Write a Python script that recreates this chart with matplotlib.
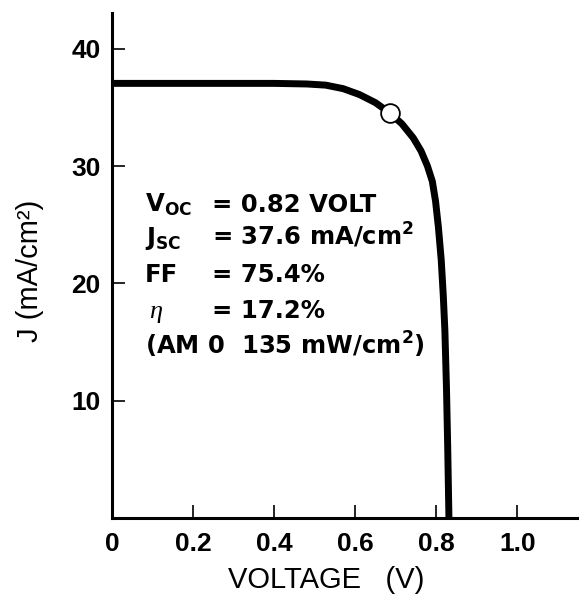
import matplotlib
matplotlib.use('Agg')
import matplotlib.pyplot as plt
from matplotlib.font_manager import FontProperties

# ---- data ----
voltage = [0.00, 0.40, 0.48, 0.527, 0.57, 0.61, 0.65, 0.686, 0.715, 0.743,
           0.762, 0.778, 0.790, 0.798, 0.805, 0.812, 0.817, 0.821, 0.825,
           0.828, 0.831]
current = [37.05, 37.05, 37.0, 36.9, 36.6, 36.1, 35.4, 34.5, 33.6, 32.4,
           31.3, 30.0, 28.7, 27.0, 24.8, 22.0, 19.0, 16.0, 11.0, 6.0, 0.0]
mpp_v = [0.686]
mpp_j = [34.5]

x_ticks = [0, 0.2, 0.4, 0.6, 0.8, 1.0]
x_tick_labels = ['0', '0.2', '0.4', '0.6', '0.8', '1.0']
y_ticks = [10, 20, 30, 40]
y_tick_labels = ['10', '20', '30', '40']

param_names = ['V', 'J', 'FF', 'η', '(AM 0  135 mW/cm$^{2}$)']
param_subs = ['OC', 'SC', '', '', '']
param_values = ['= 0.82 VOLT', '= 37.6 mA/cm$^{2}$', '= 75.4%', '= 17.2%', '']

# ---- styling ----
plt.rcParams['mathtext.fontset'] = 'custom'
plt.rcParams['mathtext.rm'] = 'DejaVu Sans:bold'
plt.rcParams['mathtext.it'] = 'DejaVu Sans:bold'
plt.rcParams['mathtext.bf'] = 'DejaVu Sans:bold'

W, H = 579, 595
fig = plt.figure(figsize=(W / 100, H / 100), dpi=100)


def fx(px):
    return px / W


def fy(py):
    return 1 - py / H


x0p, y0p, x1p, y1p = 112.2, 518, 579, 13
ax = fig.add_axes([fx(x0p), fy(y0p), fx(x1p) - fx(x0p), fy(y1p) - fy(y0p)])
ax.set_xlim(0, 1.152)
ax.set_ylim(0, 43.05)

ax.plot(voltage, current, color='black', lw=5, solid_capstyle='butt', zorder=3)
ax.plot(mpp_v, mpp_j, 'o', ms=13.5, mfc='white', mec='black', mew=1.3, zorder=4)

for s in ['top', 'right']:
    ax.spines[s].set_visible(False)
for s in ['left', 'bottom']:
    ax.spines[s].set_linewidth(2.2)

ax.set_xticks(x_ticks)
ax.set_xticklabels(x_tick_labels)
ax.set_yticks(y_ticks)
ax.set_yticklabels(y_tick_labels)
tick_fp = FontProperties(family='Liberation Sans', weight='bold', size=19)
for lab in ax.get_xticklabels() + ax.get_yticklabels():
    lab.set_fontproperties(tick_fp)
ax.tick_params(axis='both', direction='in', length=9.5, width=1.2)
ax.tick_params(axis='x', pad=10.0)
ax.tick_params(axis='y', pad=8.5)

# axis labels
fig.text(fx(326), fy(580), 'VOLTAGE   (V)', ha='center', va='center',
         family='Liberation Sans', size=21)
plt.rcParams['mathtext.rm'] = 'DejaVu Sans:bold'
fig.text(fx(30), fy(271), 'J (mA/cm²)', ha='center', va='center',
         rotation=90, family='Liberation Sans', size=21)

# parameter block
line_y = [212, 245, 282, 318, 355]
block_size = 17.5
for i, (nm, sub, val) in enumerate(zip(param_names, param_subs, param_values)):
    yb = fy(line_y[i])
    if nm == 'η':
        fig.text(fx(149), yb, nm, ha='left', va='baseline',
                 family='Liberation Serif', style='italic', size=19)
    elif sub:
        fig.text(fx(145), yb, nm + '$_{\\mathrm{' + sub + '}}$', ha='left',
                 va='baseline', family='DejaVu Sans', weight='bold',
                 size=block_size)
    else:
        fig.text(fx(145), yb, nm, ha='left', va='baseline',
                 family='DejaVu Sans', weight='bold', size=block_size)
    if val:
        fig.text(fx(212), yb, val, ha='left', va='baseline',
                 family='DejaVu Sans', weight='bold', size=block_size)

fig.savefig('out.png', dpi=100)
